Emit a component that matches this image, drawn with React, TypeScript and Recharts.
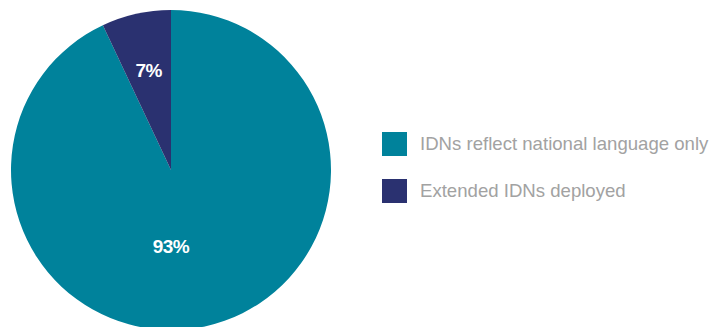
import { PieChart, Pie, Cell, Legend } from 'recharts';

const categories = ['IDNs reflect national language only', 'Extended IDNs deployed'];
const shares = [93, 7];
const colors = ['#00829B', '#2A3170'];

const data = categories.map((name, i) => ({ name, value: shares[i] }));

const RADIAN = Math.PI / 180;

const renderLabel = (props: any) => {
  const { cx, cy, midAngle, outerRadius, value, index } = props;
  // big slice label sits straight below centre, small one on its mid angle
  const angle = index === 0 ? -90 : midAngle;
  const r = index === 0 ? outerRadius * 0.48 : outerRadius * 0.64;
  const x = cx + r * Math.cos(-angle * RADIAN);
  const y = cy + r * Math.sin(-angle * RADIAN);
  return (
    <text
      x={x}
      y={y}
      fill="#fff"
      textAnchor="middle"
      dominantBaseline="central"
      fontSize={19}
      fontWeight="bold"
      fontFamily="Liberation Sans, Arial, sans-serif"
      letterSpacing={-0.5}
    >
      {value}%
    </text>
  );
};

const renderLegend = () => (
  <div style={{ fontFamily: 'Liberation Sans, Arial, sans-serif' }}>
    {categories.map((name, i) => (
      <div key={name} style={{ display: 'flex', alignItems: 'center', height: 24, marginBottom: 23 }}>
        <div style={{ width: 25, height: 24, background: colors[i], marginRight: 13 }} />
        <span style={{ color: '#a2a2a2', fontSize: 18.6, whiteSpace: 'nowrap' }}>{name}</span>
      </div>
    ))}
  </div>
);

export default function App() {
  return (
    <div style={{ position: 'absolute', left: 0, top: 0, background: '#fff' }}>
      <PieChart width={714} height={327} margin={{ top: 0, right: 0, bottom: 0, left: 0 }}>
        <Pie
          data={data}
          dataKey="value"
          nameKey="name"
          cx={171}
          cy={170}
          outerRadius={160}
          startAngle={90}
          endAngle={-270}
          stroke="none"
          label={renderLabel}
          labelLine={false}
          isAnimationActive={false}
        >
          {data.map((d, i) => (
            <Cell key={d.name} fill={colors[i]} />
          ))}
        </Pie>
        <Legend
          content={renderLegend}
          wrapperStyle={{ left: 382, top: 132, width: 332 }}
        />
      </PieChart>
    </div>
  );
}
